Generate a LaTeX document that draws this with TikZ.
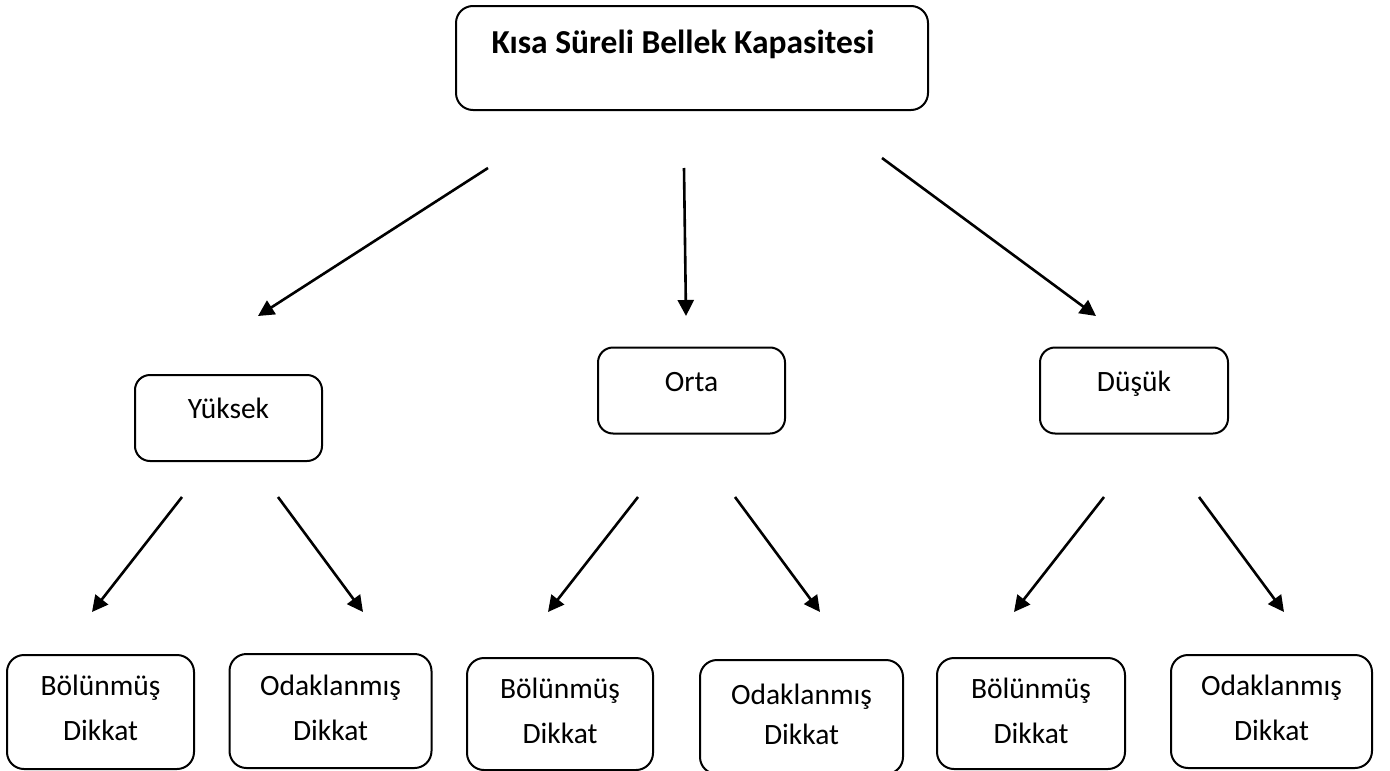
\documentclass[tikz,border=0pt]{standalone}
\usepackage{fontspec}
\setmainfont{Carlito}
\usetikzlibrary{arrows.meta}
\begin{document}
\begin{tikzpicture}[x=1pt,y=-1pt,
  box/.style={draw=black, line width=2pt, rounded corners=17pt, inner sep=0pt, fill=none},
  lbl/.style={anchor=base, inner sep=0pt, font=\fontsize{29.5}{45}\selectfont},
  arr/.style={line width=2.6pt, -{Triangle[length=16pt,width=16pt]}}
]
\useasboundingbox (0,0) rectangle (1390,771);
% top
\node[box, minimum width=472pt, minimum height=104pt] (top) at (692,58) {};
\node[lbl, font=\fontsize{33.5}{45}\selectfont\bfseries] (toptxt) at (683,53) {Kısa Süreli Bellek Kapasitesi};
% middle
\node[box, rounded corners=15pt, minimum width=187pt, minimum height=86pt] (yuk) at (228.5,418) {};
\node[lbl] (yuktxt) at (228.5,418) {Yüksek};
\node[box, rounded corners=15pt, minimum width=187pt, minimum height=86pt] (orta) at (691.5,390.5) {};
\node[lbl] (ortatxt) at (691.5,391) {Orta};
\node[box, rounded corners=15pt, minimum width=188pt, minimum height=86pt] (dus) at (1134,390.5) {};
\node[lbl] (dustxt) at (1134,391) {Düşük};
% bottom boxes
\node[box, minimum width=187pt, minimum height=114pt] (b1) at (100.5,712) {};
\node[lbl] (b1a) at (100.5,695) {Bölünmüş};
\node[lbl] (b1b) at (100.5,740) {Dikkat};
\node[box, minimum width=202pt, minimum height=114pt] (b2) at (330.5,711) {};
\node[lbl] (b2a) at (330.5,695) {Odaklanmış};
\node[lbl] (b2b) at (330.5,740) {Dikkat};
\node[box, minimum width=186pt, minimum height=112pt] (b3) at (560,714) {};
\node[lbl] (b3a) at (560,698) {Bölünmüş};
\node[lbl] (b3b) at (560,743) {Dikkat};
\node[box, minimum width=203pt, minimum height=114pt] (b4) at (801.5,717) {};
\node[lbl] (b4a) at (801.5,704) {Odaklanmış};
\node[lbl] (b4b) at (801.5,744) {Dikkat};
\node[box, minimum width=188pt, minimum height=111pt] (b5) at (1031,713.5) {};
\node[lbl] (b5a) at (1031,698) {Bölünmüş};
\node[lbl] (b5b) at (1031,743) {Dikkat};
\node[box, minimum width=201pt, minimum height=113pt] (b6) at (1271.5,711.5) {};
\node[lbl] (b6a) at (1271.5,695) {Odaklanmış};
\node[lbl] (b6b) at (1271.5,740) {Dikkat};
% arrow end points
\coordinate (t1s) at (488,168); \coordinate (t1e) at (258,316);
\coordinate (t2s) at (684,168); \coordinate (t2e) at (686,316);
\coordinate (t3s) at (882,158); \coordinate (t3e) at (1096,316);
\coordinate (y1s) at (182,497); \coordinate (y1e) at (92,612);
\coordinate (y2s) at (278,497); \coordinate (y2e) at (363,612);
\coordinate (o1s) at (638,497); \coordinate (o1e) at (548,612);
\coordinate (o2s) at (735,497); \coordinate (o2e) at (820,612);
\coordinate (d1s) at (1104,497); \coordinate (d1e) at (1014,612);
\coordinate (d2s) at (1199,497); \coordinate (d2e) at (1284,612);
\draw[arr] (t1s) -- (t1e);
\draw[arr] (t2s) -- (t2e);
\draw[arr] (t3s) -- (t3e);
\draw[arr] (y1s) -- (y1e);
\draw[arr] (y2s) -- (y2e);
\draw[arr] (o1s) -- (o1e);
\draw[arr] (o2s) -- (o2e);
\draw[arr] (d1s) -- (d1e);
\draw[arr] (d2s) -- (d2e);
\end{tikzpicture}
\end{document}
